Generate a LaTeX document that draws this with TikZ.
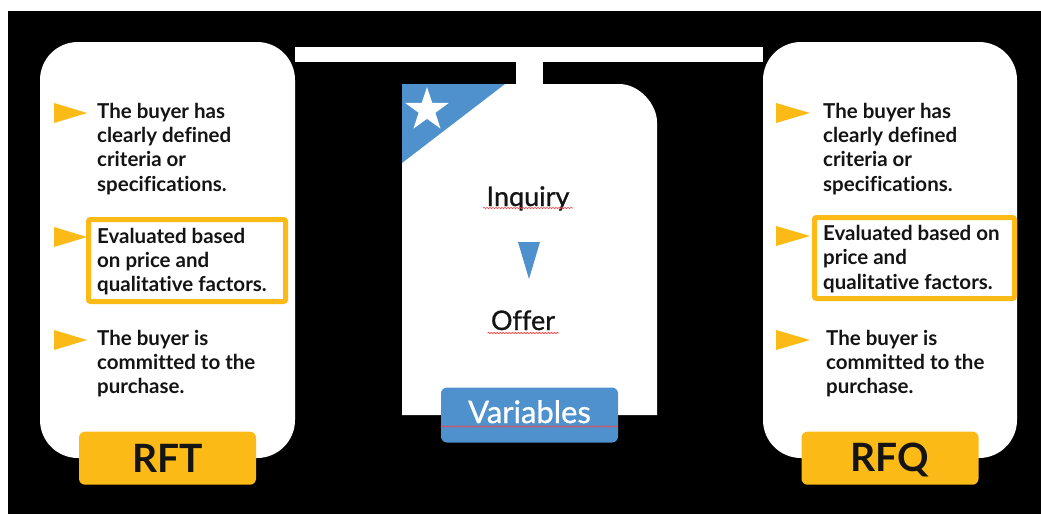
\documentclass[tikz,border=0pt]{standalone}
\usepackage{fontspec}
\setmainfont[Ligatures=NoCommon]{Lato}
\newfontfamily\midfont[Ligatures=NoCommon, FakeBold=0.8]{Lato}
\usepackage{tikz}
\usetikzlibrary{positioning,shapes.geometric,decorations.pathmorphing}
\definecolor{mustard}{HTML}{FBBA16}
\definecolor{steel}{HTML}{4F91CD}
\definecolor{ink}{HTML}{141414}

\begin{document}
\begin{tikzpicture}[x=1pt, y=-1pt,
                    squiggle/.style={draw=red!75, line width=0.6pt, decorate, decoration={snake, amplitude=0.7pt, segment length=3pt}}]
    \tikzstyle{card}=[rectangle, fill=white, rounded corners=38pt, minimum width=255pt, minimum height=416pt, inner sep=0pt]
    \tikzstyle{tagbox}=[rectangle, rounded corners=6pt, minimum width=177pt, minimum height=53pt, inner sep=0pt]
    \tikzstyle{pointtext}=[anchor=base west, align=left, inner sep=0pt, text=ink, font=\bfseries\fontsize{20.5}{24.3}\selectfont]
    \tikzstyle{hlbox}=[draw=mustard, line width=5pt, rounded corners=2pt]
    \tikzstyle{bar}=[draw=white, line width=15pt]

      \useasboundingbox (0,0) rectangle (1041,514);
      \fill[white] (0,0) rectangle (1041,514);
      \fill[black] (8,11) rectangle (1041,514);

      % the two side cards
      \node[card] (rftcard) at (167.5,250) {};
      \node[card, minimum width=254pt] (rfqcard) at (890,250) {};

      % middle card, only one round corner
      \fill[white] (402,415) -- (402,84) -- (619,84) .. controls (640,84) and (657,105) .. (657,122) -- (657,415) -- cycle;
      \coordinate (inqtop) at (529.5,84);
      \coordinate (inqbottom) at (529.5,415);
      \coordinate (junction) at (529.5,54.5);
      \fill[steel] (402,84) -- (505,84) -- (402,163) -- cycle;
      \node[star, star points=5, star point ratio=2.6, fill=white, minimum size=46pt, inner sep=0pt] (badge) at (427,110) {};

      \path
        ([yshift=-12.5pt]rftcard.north east) edge [bar] ([yshift=-12.5pt]rfqcard.north west)
        (junction) edge [bar, line width=27pt] (inqtop);

      % left column (base = last line)
      \foreach \y in {113,237,340}
        \fill[mustard] (54,\y-10) -- (87,\y) -- (54,\y+10) -- cycle;
      \node[pointtext] (rftA) at (97,191) {The buyer has\\clearly defined\\criteria or\\specifications.};
      \node[pointtext] (rftB) at (97,291.6) {Evaluated based\\on price and\\qualitative factors.};
      \node[pointtext] (rftC) at (97,393.6) {The buyer is\\committed to the\\purchase.};
      \draw[hlbox] (88.5,219.5) rectangle (285.5,301.5);
      \node[tagbox, fill=mustard, text=ink, font=\bfseries\fontsize{39}{42}\selectfont, text height=28pt, text depth=0pt] (rft) at (rftcard.south) {RFT};

      % right column
      \foreach \y in {113,236,340}
        \fill[mustard] (776,\y-10) -- (810,\y) -- (776,\y+10) -- cycle;
      \node[pointtext] (rfqA) at (823,191) {The buyer has\\clearly defined\\criteria or\\specifications.};
      \node[pointtext] (rfqB) at (823,289.1) {Evaluated based on\\price and\\qualitative factors.};
      \node[pointtext] (rfqC) at (826,393.6) {The buyer is\\committed to the\\purchase.};
      \draw[hlbox] (814.5,217.5) rectangle (1014.5,298.5);
      \node[tagbox, fill=mustard, text=ink, font=\bfseries\fontsize{39}{42}\selectfont, text height=26pt, text depth=0pt] (rfq) at (rfqcard.south) {RFQ};

      % middle content
      \node[anchor=base, text=ink, font=\midfont\fontsize{27}{30}\selectfont] (inquiry) at (528,206) {Inquiry};
      \node[anchor=base, text=ink, font=\midfont\fontsize{27}{30}\selectfont] (offer) at (523,330) {Offer};
      \fill[steel] (518,242) -- (540,242) -- (529,279) -- cycle;
      \node[tagbox, fill=steel, text=white, minimum height=55pt, font=\midfont\fontsize{31}{34}\selectfont, text height=22pt, text depth=6pt] (variables) at (inqbottom) {Variables};
      \draw[squiggle] ([yshift=-2pt]inquiry.base west) -- ([yshift=-2pt]inquiry.base east);
      \draw[squiggle] ([yshift=-3pt]offer.base west) -- ([yshift=-3pt]offer.base east);
      \draw[squiggle] ([yshift=-3.5pt]variables.base west) -- ([yshift=-3.5pt]variables.base east);
    \end{tikzpicture}
\end{document}
